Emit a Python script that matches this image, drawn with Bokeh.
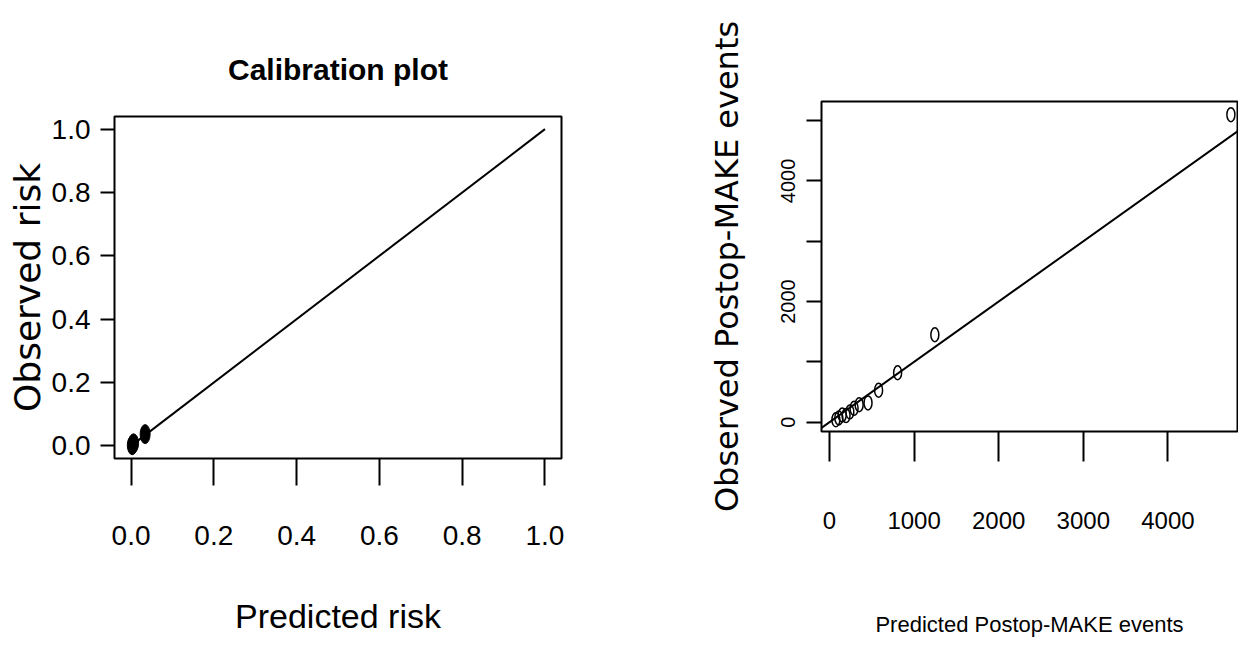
from bokeh.plotting import figure
from bokeh.models import FixedTicker, PrintfTickFormatter, Slope, Range1d
from bokeh.embed import file_html
from bokeh.resources import INLINE

# ---------------- data ----------------
# Left panel: calibration plot (risk scale)
cal_pred = [0.003, 0.006, 0.034]
cal_obs = [0.002, 0.008, 0.037]
ideal = [0.0, 1.0]
risk_ticks = [0.0, 0.2, 0.4, 0.6, 0.8, 1.0]

# Right panel: predicted vs observed Postop-MAKE events
pred_events = [75, 110, 150, 195, 240, 290, 350, 455, 580, 805, 1245, 4745]
obs_events = [40, 70, 120, 110, 170, 230, 290, 320, 530, 820, 1450, 5100]
x_event_ticks = [0, 1000, 2000, 3000, 4000]
y_event_ticks = [0, 1000, 2000, 3000, 4000, 5000]
y_event_labels = ["0", "", "2000", "", "4000", ""]

SANS = "Liberation Sans"
WIDE = "DejaVu Sans"


def style_common(p):
    p.xgrid.visible = False
    p.ygrid.visible = False
    p.outline_line_color = "black"
    p.outline_line_width = 2
    p.background_fill_color = "white"
    p.border_fill_color = "white"
    for ax in (p.xaxis[0], p.yaxis[0]):
        ax.axis_line_color = None
        ax.major_tick_in = 0
        ax.major_tick_line_width = 2
        ax.major_tick_line_color = "black"
        ax.minor_tick_line_color = None
        ax.major_label_text_color = "black"
        ax.axis_label_text_color = "black"
        ax.axis_label_text_font_style = "normal"


# ---------------- left figure ----------------
p1 = figure(width=700, height=642, output_backend="svg", toolbar_location=None,
            x_range=Range1d(-0.04, 1.04), y_range=Range1d(-0.04, 1.04),
            min_border_left=114, min_border_right=139, min_border_top=116,
            min_border_bottom=184, title="Calibration plot")
style_common(p1)
p1.title.align = "center"
p1.title.text_font = SANS
p1.title.text_font_style = "bold"
p1.title.text_font_size = "30px"
p1.title.text_color = "black"
p1.title.standoff = 62

xa = p1.xaxis[0]
xa.ticker = FixedTicker(ticks=risk_ticks)
xa.formatter = PrintfTickFormatter(format="%.1f")
xa.major_tick_out = 27
xa.major_label_standoff = 40
xa.major_label_text_font = SANS
xa.major_label_text_font_size = "28px"
xa.axis_label = "Predicted risk"
xa.axis_label_text_font = SANS
xa.axis_label_text_font_size = "34px"
xa.axis_label_standoff = 49

ya = p1.yaxis[0]
ya.ticker = FixedTicker(ticks=risk_ticks)
ya.formatter = PrintfTickFormatter(format="%.1f")
ya.major_tick_out = 14
ya.major_label_standoff = 10
ya.major_label_orientation = "horizontal"
ya.major_label_text_font = SANS
ya.major_label_text_font_size = "28px"
ya.axis_label = "Observed risk"
ya.axis_label_text_font = WIDE
ya.axis_label_text_font_size = "36px"
ya.axis_label_standoff = 1

p1.line(x=ideal, y=ideal, line_color="black", line_width=2)
p1.ellipse(x=cal_pred, y=cal_obs, width=10, height=19, width_units="screen",
           height_units="screen", fill_color="black", line_color="black")

# ---------------- right figure ----------------
p2 = figure(width=538, height=642, output_backend="svg", toolbar_location=None,
            x_range=Range1d(-95, 4823), y_range=Range1d(-154, 5318),
            min_border_left=121, min_border_right=1, min_border_top=101,
            min_border_bottom=211)
style_common(p2)

xb = p2.xaxis[0]
xb.ticker = FixedTicker(ticks=x_event_ticks)
xb.major_tick_out = 30
xb.major_label_standoff = 50
xb.major_label_text_font = SANS
xb.major_label_text_font_size = "24px"
xb.axis_label = "Predicted Postop-MAKE events"
xb.axis_label_text_font = SANS
xb.axis_label_text_font_size = "22px"
xb.axis_label_standoff = 80

yb = p2.yaxis[0]
yb.ticker = FixedTicker(ticks=y_event_ticks)
yb.major_label_overrides = {t: lab for t, lab in zip(y_event_ticks, y_event_labels)}
yb.major_tick_out = 15
yb.major_label_standoff = 11
yb.major_label_orientation = "parallel"
yb.major_label_text_font = SANS
yb.major_label_text_font_size = "20px"
yb.axis_label = "Observed Postop-MAKE events"
yb.axis_label_text_font = WIDE
yb.axis_label_text_font_size = "32px"
yb.axis_label_standoff = 33

p2.add_layout(Slope(gradient=1, y_intercept=0, line_color="black", line_width=2))
p2.ellipse(x=pred_events, y=obs_events, width=8, height=14, width_units="screen",
           height_units="screen", fill_color=None, line_color="black", line_width=1.5)

# two independent roots placed side by side (no frame alignment between panels)
html = file_html([p1, p2], INLINE)
html = html.replace("</head>",
                    "<style>body{display:flex;flex-direction:row;align-items:flex-start;}</style></head>", 1)
open("out.html", "w").write(html)
